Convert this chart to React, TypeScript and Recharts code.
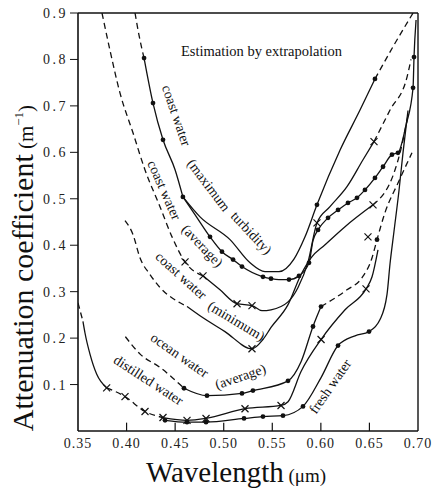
import React from "react"
import { ComposedChart, Line, Scatter, XAxis, YAxis, ReferenceLine } from "recharts"

// [wavelength µm, attenuation m^-1, measured point (1)]
const maxTurbExtrap = [[0.4087, 0.9], [0.413, 0.85], [0.418, 0.803]]
const maxTurbMain = [[0.418, 0.803, 1], [0.4272, 0.706, 1], [0.4375, 0.627, 1], [0.45, 0.562], [0.458, 0.504, 1]]
const maxTurbUpper = [
  [0.458, 0.504], [0.4756, 0.461], [0.5065, 0.412], [0.5271, 0.362], [0.5425, 0.343], [0.5569, 0.343],
  [0.5723, 0.37], [0.5837, 0.418], [0.596, 0.487, 1], [0.6198, 0.605], [0.6403, 0.691], [0.6557, 0.758, 1],
]
const maxTurbUpperExtrap = [[0.6557, 0.758], [0.675, 0.83], [0.6949, 0.9]]
const maxTurbLower = [
  [0.458, 0.504], [0.4704, 0.466], [0.4859, 0.418, 1], [0.4982, 0.386, 1], [0.5096, 0.369, 1], [0.5188, 0.354, 1],
  [0.5404, 0.332, 1], [0.5487, 0.328, 1], [0.5569, 0.326], [0.5672, 0.326, 1], [0.5775, 0.334, 1], [0.5878, 0.362, 1],
  [0.5919, 0.41], [0.5971, 0.433, 1], [0.6074, 0.459, 1], [0.6177, 0.476, 1], [0.6279, 0.491, 1], [0.6372, 0.502, 1],
  [0.6454, 0.519, 1], [0.6557, 0.545, 1], [0.664, 0.569, 1], [0.6732, 0.595, 1], [0.6794, 0.599, 1], [0.6877, 0.659],
  [0.6949, 0.739, 1], [0.6959, 0.805, 1], [0.698, 0.885],
]

const coastAvgExtrap = [
  [0.3747, 0.9], [0.3829, 0.82], [0.3932, 0.728], [0.4066, 0.642], [0.419, 0.562], [0.4344, 0.483],
  [0.4468, 0.418], [0.4602, 0.364, 1], [0.4787, 0.334, 1],
]
const coastAvg = [
  [0.4787, 0.334], [0.4962, 0.304], [0.5137, 0.274, 1], [0.5291, 0.27, 1], [0.5394, 0.259], [0.5487, 0.261],
  [0.5662, 0.278], [0.5765, 0.309], [0.5868, 0.364], [0.596, 0.448, 1], [0.6094, 0.483], [0.6269, 0.526],
  [0.6434, 0.584], [0.6547, 0.623, 1],
]
const coastAvgHigh = [[0.6547, 0.623], [0.6712, 0.691], [0.6887, 0.762], [0.6928, 0.8]]

const coastMinExtrap = [
  [0.3984, 0.453], [0.4066, 0.423], [0.4138, 0.373], [0.4241, 0.337], [0.4344, 0.309], [0.455, 0.276], [0.4622, 0.268],
]
const coastMin = [
  [0.4622, 0.268], [0.4756, 0.248], [0.5013, 0.214], [0.5291, 0.177, 1], [0.5404, 0.197], [0.5487, 0.223],
  [0.5662, 0.272], [0.5796, 0.337], [0.5899, 0.373], [0.6043, 0.401], [0.6249, 0.44], [0.6537, 0.487, 1],
]
const coastMinHigh = [[0.6537, 0.487], [0.6763, 0.562], [0.6815, 0.599], [0.6897, 0.68]]

const oceanExtrap = [[0.3988, 0.203], [0.4142, 0.165], [0.4344, 0.137], [0.455, 0.1], [0.4591, 0.092, 1]]
const ocean = [
  [0.4591, 0.092], [0.4828, 0.076, 1], [0.5188, 0.081, 1], [0.5301, 0.087, 1], [0.5662, 0.108, 1],
  [0.5796, 0.149], [0.5919, 0.225, 1], [0.6002, 0.268, 1],
]
const oceanHigh = [
  [0.6002, 0.268], [0.6269, 0.304], [0.6424, 0.33], [0.6527, 0.373], [0.6578, 0.412, 1], [0.666, 0.47],
  [0.6794, 0.534], [0.6938, 0.599],
]

const distilledExtrap = [[0.35, 0.276], [0.3551, 0.236]]
const distilledUv = [[0.3551, 0.236], [0.3572, 0.211], [0.3624, 0.165], [0.3693, 0.122], [0.3795, 0.093, 1]]
const distilledMid = [[0.3795, 0.093], [0.3984, 0.074, 1], [0.419, 0.042, 1], [0.4375, 0.029, 1]]
const distilled = [
  [0.4375, 0.029], [0.4622, 0.023, 1], [0.4818, 0.027, 1], [0.5219, 0.048, 1], [0.559, 0.055, 1], [0.5662, 0.063],
  [0.5796, 0.128], [0.6002, 0.197, 1], [0.6249, 0.261], [0.6465, 0.306, 1], [0.6527, 0.332], [0.6588, 0.39],
]

const fresh = [
  [0.4396, 0.023, 1], [0.4622, 0.019, 1], [0.4818, 0.019, 1], [0.5209, 0.027, 1], [0.5404, 0.031, 1], [0.561, 0.033, 1],
  [0.5816, 0.053, 1], [0.6002, 0.115], [0.6177, 0.184, 1], [0.6352, 0.205], [0.6496, 0.214, 1], [0.6609, 0.24],
  [0.6681, 0.294], [0.6712, 0.36], [0.6753, 0.43], [0.6805, 0.519], [0.6846, 0.6], [0.6897, 0.69],
]

const looseCrosses = [[0.6485, 0.418]]

const xTicks = [0.35, 0.4, 0.45, 0.5, 0.55, 0.6, 0.65, 0.7]
const yTicks = [0.1, 0.2, 0.3, 0.4, 0.5, 0.6, 0.7, 0.8, 0.9]

const toPts = (rows: number[][]) => rows.map(([l, a, m]) => ({ l, a, m: m === 1 }))

const series = [
  { id: "mt-x", rows: maxTurbExtrap, dashed: true, mark: "dot" },
  { id: "mt", rows: maxTurbMain, dashed: false, mark: "dot" },
  { id: "mt-up", rows: maxTurbUpper, dashed: false, mark: "dot" },
  { id: "mt-upx", rows: maxTurbUpperExtrap, dashed: true, mark: "dot" },
  { id: "mt-lo", rows: maxTurbLower, dashed: false, mark: "dot" },
  { id: "ca-x", rows: coastAvgExtrap, dashed: true, mark: "cross" },
  { id: "ca", rows: coastAvg, dashed: false, mark: "cross" },
  { id: "ca-h", rows: coastAvgHigh, dashed: true, mark: "cross" },
  { id: "cm-x", rows: coastMinExtrap, dashed: true, mark: "cross" },
  { id: "cm", rows: coastMin, dashed: false, mark: "cross" },
  { id: "cm-h", rows: coastMinHigh, dashed: true, mark: "cross" },
  { id: "oc-x", rows: oceanExtrap, dashed: true, mark: "dot" },
  { id: "oc", rows: ocean, dashed: false, mark: "dot" },
  { id: "oc-h", rows: oceanHigh, dashed: true, mark: "dot" },
  { id: "di-x", rows: distilledExtrap, dashed: true, mark: "cross" },
  { id: "di-uv", rows: distilledUv, dashed: false, mark: "cross" },
  { id: "di-m", rows: distilledMid, dashed: true, mark: "cross" },
  { id: "di", rows: distilled, dashed: false, mark: "cross" },
  { id: "fr", rows: fresh, dashed: false, mark: "dot" },
]

const serif = "'Liberation Serif', 'Times New Roman', serif"

const drawMark = (kind: string) => (props: any) => {
  const { cx, cy, payload, index } = props
  if (!payload || !payload.m || cx == null) return <g key={`n-${index}`} />
  if (kind === "dot") return <circle key={`d-${index}`} cx={cx} cy={cy} r={2.4} fill="#111" />
  return (
    <g key={`c-${index}`} stroke="#111" strokeWidth={1.2}>
      <line x1={cx - 3.5} y1={cy - 3.5} x2={cx + 3.5} y2={cy + 3.5} />
      <line x1={cx - 3.5} y1={cy + 3.5} x2={cx + 3.5} y2={cy - 3.5} />
    </g>
  )
}

const crossShape = (props: any) => {
  const { cx, cy } = props
  return (
    <g stroke="#111" strokeWidth={1.2}>
      <line x1={cx - 3.5} y1={cy - 3.5} x2={cx + 3.5} y2={cy + 3.5} />
      <line x1={cx - 3.5} y1={cy + 3.5} x2={cx + 3.5} y2={cy - 3.5} />
    </g>
  )
}

const curveLabels = [
  { text: "coast water", x: 172, y: 117, r: 71 },
  { text: "(maximum", x: 205, y: 188, r: 53 },
  { text: "turbidity)", x: 248, y: 236, r: 47 },
  { text: "coast water", x: 160, y: 192, r: 66 },
  { text: "(average)", x: 199, y: 249, r: 46 },
  { text: "coast water", x: 178, y: 279, r: 42 },
  { text: "(minimum)", x: 234, y: 325, r: 31 },
  { text: "ocean water", x: 177, y: 359, r: 35 },
  { text: "(average)", x: 242, y: 381, r: -19 },
  { text: "distilled water", x: 146, y: 384, r: 33 },
  { text: "fresh water", x: 334, y: 389, r: -55 },
]

export default function App() {
  return (
    <div style={{ position: "absolute", left: 0, top: 0, width: 442, height: 490, background: "#fff" }}>
      <ComposedChart width={442} height={490} margin={{ top: 13, right: 24, bottom: 29, left: 18 }}>
        <XAxis
          type="number"
          dataKey="l"
          domain={[0.35, 0.7]}
          ticks={xTicks}
          height={30}
          allowDataOverflow
          tickFormatter={(v: number) => v.toFixed(2)}
          tickLine={false}
          tickSize={0}
          tickMargin={7}
          axisLine={{ stroke: "#111", strokeWidth: 1.6 }}
          tick={{ fill: "#222", fontSize: 14, fontFamily: serif, letterSpacing: 1 }}
        />
        <YAxis
          type="number"
          dataKey="a"
          domain={[0, 0.9]}
          ticks={yTicks}
          width={60}
          allowDataOverflow
          tickFormatter={(v: number) => v.toFixed(1)}
          tickSize={8}
          tickMargin={2}
          tickLine={{ stroke: "#111" }}
          axisLine={{ stroke: "#111", strokeWidth: 1.6 }}
          tick={{ fill: "#222", fontSize: 14, fontFamily: serif, letterSpacing: 2.5 }}
        />
        <ReferenceLine y={0.9} stroke="#111" strokeWidth={1.4} />
        <ReferenceLine x={0.7} stroke="#111" strokeWidth={1.4} />
        {xTicks.slice(1, -1).map((t) => (
          <ReferenceLine key={t} segment={[{ x: t, y: 0 }, { x: t, y: 0.018 }]} stroke="#111" strokeWidth={1.2} />
        ))}
        {series.map((s) => (
          <Line
            key={s.id}
            data={toPts(s.rows)}
            dataKey="a"
            type="monotone"
            stroke="#111"
            strokeWidth={1.3}
            strokeDasharray={s.dashed ? "6 4" : undefined}
            dot={drawMark(s.mark)}
            activeDot={false}
            isAnimationActive={false}
            legendType="none"
          />
        ))}
        <Scatter data={toPts(looseCrosses)} dataKey="a" shape={crossShape} isAnimationActive={false} />
      </ComposedChart>
      <svg width={442} height={490} style={{ position: "absolute", left: 0, top: 0, pointerEvents: "none" }}>
        <text x={181} y={56} fontFamily={serif} fontSize={14.5} fill="#111">
          Estimation by extrapolation
        </text>
        {curveLabels.map((c, i) => (
          <text
            key={i}
            x={c.x}
            y={c.y}
            fontFamily={serif}
            fontSize={14}
            fill="#111"
            textAnchor="middle"
            transform={`rotate(${c.r} ${c.x} ${c.y})`}
          >
            {c.text}
          </text>
        ))}
        <text transform="translate(33 268) rotate(-90)" textAnchor="middle" fontFamily={serif} fill="#111" fontSize={30}>
          Attenuation coefficient
          <tspan fontSize={21}> (m</tspan>
          <tspan fontSize={13} dy={-10}>−1</tspan>
          <tspan fontSize={21} dy={10}>)</tspan>
        </text>
        <text x={236} y={482} textAnchor="middle" fontFamily={serif} fill="#111" fontSize={29}>
          Wavelength
          <tspan fontSize={19}> (μm)</tspan>
        </text>
      </svg>
    </div>
  )
}
